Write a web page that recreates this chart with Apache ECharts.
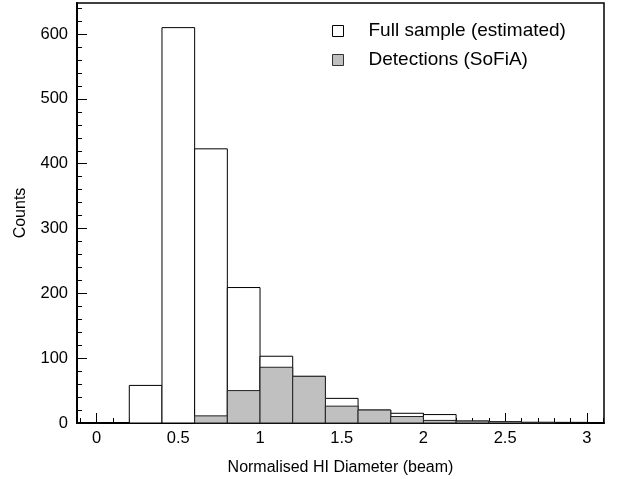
<!DOCTYPE html>
<html>
<head>
<meta charset="utf-8">
<script src="https://cdn.jsdelivr.net/npm/echarts@6/dist/echarts.min.js"></script>
<style>
html, body { margin: 0; padding: 0; background: #fff; }
#chart { width: 619px; height: 479px; }
</style>
</head>
<body>
<div id="chart"></div>
<script>
// histogram bins (left edges, width 0.2 beam)
const binStarts = [0.2, 0.4, 0.6, 0.8, 1.0, 1.2, 1.4, 1.6, 1.8, 2.0, 2.2, 2.4, 2.6, 2.8];
const binWidth = 0.2;
const fullCounts = [58, 610, 423, 209, 103, 72, 38, 20, 15, 13, 3, 2, 1, 1];
const detectedCounts = [0, 0, 11, 50, 86, 72, 26, 20, 10, 4, 3, 2, 1, 0];

const xMajor = [0, 0.5, 1, 1.5, 2, 2.5, 3];
const xMinor = [-0.1, 0.1, 0.2, 0.3, 0.4, 0.6, 0.7, 0.8, 0.9, 1.1, 1.2, 1.3, 1.4, 1.6, 1.7, 1.8, 1.9,
  2.1, 2.2, 2.3, 2.4, 2.6, 2.7, 2.8, 2.9, 3.1];
const yMajor = [0, 100, 200, 300, 400, 500, 600];
const yMinor = [20, 40, 60, 80, 120, 140, 160, 180, 220, 240, 260, 280, 320, 340, 360, 380,
  420, 440, 460, 480, 520, 540, 560, 580, 620, 640];

const X_MIN = -0.12, X_MAX = 3.105, Y_MAX = 648;
const font = 'Liberation Sans, Arial, Helvetica, sans-serif';

function toRows(counts) {
  return binStarts.map((s, i) => [s, s + binWidth, counts[i]]).filter(r => r[2] > 0);
}

function histRender(fill, stroke) {
  return function (params, api) {
    const p0 = api.coord([api.value(0), api.value(2)]);
    const p1 = api.coord([api.value(1), 0]);
    return {
      type: 'rect',
      shape: { x: p0[0], y: p0[1], width: p1[0] - p0[0], height: p1[1] - p0[1] },
      style: { fill: fill, stroke: stroke, lineWidth: 1 }
    };
  };
}

const chart = echarts.init(document.getElementById('chart'));

chart.setOption({
  animation: false,
  backgroundColor: '#fff',
  textStyle: { fontFamily: font },
  grid: {
    left: 77, top: 3, right: 15, bottom: 56,
    outerBoundsMode: 'none', containLabel: false,
    show: true, borderColor: '#000', borderWidth: 1.5, backgroundColor: 'transparent'
  },
  legend: {
    orient: 'vertical',
    left: 327, top: 15,
    icon: 'rect',
    itemWidth: 11, itemHeight: 11,
    itemGap: 7,
    itemStyle: { borderWidth: 1 },
    textStyle: { fontSize: 19, color: '#000', fontFamily: font, padding: [0, 0, 0, 20], lineHeight: 22 },
    data: ['Full sample (estimated)', 'Detections (SoFiA)']
  },
  xAxis: [
    {
      type: 'value', min: X_MIN, max: X_MAX,
      name: 'Normalised HI Diameter (beam)', nameLocation: 'middle', nameGap: 37,
      nameTextStyle: { fontSize: 16, color: '#000' },
      axisLine: { show: true, onZero: false, lineStyle: { color: '#000', width: 2 } },
      axisTick: { show: true, inside: true, length: 10, customValues: xMajor, lineStyle: { color: '#000' } },
      axisLabel: { customValues: xMajor, fontSize: 16.5, color: '#000', margin: 7 },
      splitLine: { show: false }
    },
    {
      type: 'value', min: X_MIN, max: X_MAX, position: 'bottom',
      axisLine: { show: false, onZero: false },
      axisTick: { show: true, inside: true, length: 5, customValues: xMinor, lineStyle: { color: '#000' } },
      axisLabel: { show: false },
      splitLine: { show: false }
    }
  ],
  yAxis: [
    {
      type: 'value', min: 0, max: Y_MAX,
      name: 'Counts', nameLocation: 'middle', nameGap: 48, nameRotate: 90,
      nameTextStyle: { fontSize: 16, color: '#000' },
      axisLine: { show: true, onZero: false, lineStyle: { color: '#000', width: 2 } },
      axisTick: { show: true, inside: true, length: 10, customValues: yMajor, lineStyle: { color: '#000' } },
      axisLabel: { customValues: yMajor, fontSize: 16.5, color: '#000', margin: 9 },
      splitLine: { show: false }
    },
    {
      type: 'value', min: 0, max: Y_MAX, position: 'left',
      axisLine: { show: false, onZero: false },
      axisTick: { show: true, inside: true, length: 5, customValues: yMinor, lineStyle: { color: '#000' } },
      axisLabel: { show: false },
      splitLine: { show: false }
    }
  ],
  series: [
    {
      name: 'Full sample (estimated)',
      type: 'custom',
      xAxisIndex: 0, yAxisIndex: 0,
      renderItem: histRender('#fff', '#000'),
      itemStyle: { color: '#fff', borderColor: '#000', borderWidth: 1 },
      encode: { x: [0, 1], y: 2 },
      data: toRows(fullCounts)
    },
    {
      name: 'Detections (SoFiA)',
      type: 'custom',
      xAxisIndex: 0, yAxisIndex: 0,
      renderItem: histRender('#c0c0c0', '#222'),
      itemStyle: { color: '#c0c0c0', borderColor: '#333', borderWidth: 1 },
      encode: { x: [0, 1], y: 2 },
      data: toRows(detectedCounts)
    }
  ]
});
</script>
</body>
</html>
